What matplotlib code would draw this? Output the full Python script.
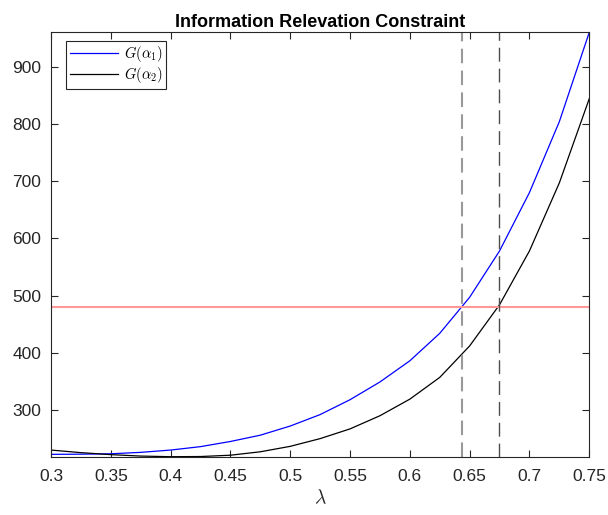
import matplotlib
matplotlib.use('Agg')
import matplotlib.pyplot as plt

plt.rcParams['font.family'] = ['Liberation Sans', 'DejaVu Sans']
plt.rcParams['mathtext.fontset'] = 'cm'

# values
lam = [0.3, 0.325, 0.35, 0.375, 0.4, 0.425, 0.45, 0.475, 0.5, 0.525,
       0.55, 0.575, 0.6, 0.625, 0.65, 0.675, 0.7, 0.725, 0.75]
g_alpha1 = [222.5, 222.8, 223.5, 226, 230, 236, 245, 256, 272, 292,
            318, 349, 386, 434, 497, 578, 680, 804, 960]
g_alpha2 = [230, 225.5, 222, 219.5, 218.4, 218.7, 221, 227, 236.5, 250,
            267, 290, 319, 357, 412, 484, 578, 697, 844]
threshold = 480
lam_cross1 = 0.6438
lam_cross2 = 0.6745

xticks = [0.3, 0.35, 0.4, 0.45, 0.5, 0.55, 0.6, 0.65, 0.7, 0.75]
xticklabels = ['0.3', '0.35', '0.4', '0.45', '0.5', '0.55', '0.6', '0.65', '0.7', '0.75']
yticks = [300, 400, 500, 600, 700, 800, 900]

fig = plt.figure(figsize=(6.08, 5.15), dpi=100)
ax = fig.add_axes([0.0839, 0.1132, 0.8853, 0.8241])

axc = (0.15, 0.15, 0.15)
ax.plot(lam, g_alpha1, color='b', linewidth=0.9, label=r'$G(\alpha_1)$')
ax.plot(lam, g_alpha2, color='k', linewidth=0.9, label=r'$G(\alpha_2)$')
ax.axhline(threshold, color=(1, 0.6, 0.6), linewidth=1.5)
ax.axvline(lam_cross1, color=(0.6, 0.6, 0.6), linewidth=1.5, dashes=(7, 3.5))
ax.axvline(lam_cross2, color=(0.3, 0.3, 0.3), linewidth=1.0, dashes=(10, 5))

ax.set_xlim(0.3, 0.75)
ax.set_ylim(min(g_alpha2), max(g_alpha1))
ax.set_xticks(xticks)
ax.set_xticklabels(xticklabels)
ax.set_yticks(yticks)
ax.tick_params(direction='in', top=True, right=True, length=5, width=0.8,
               labelsize=12.5, colors=axc)
ax.tick_params(axis='x', pad=9)
ax.tick_params(axis='y', pad=7)
for s in ax.spines.values():
    s.set_color(axc)
    s.set_linewidth(0.8)

ax.set_title('Information Relevation Constraint', fontsize=13,
             fontweight='bold', pad=4)
ax.set_xlabel(r'$\lambda$', fontsize=14, color=axc, labelpad=3)

leg = ax.legend(loc='upper left', bbox_to_anchor=(0.028, 0.98), fontsize=10.5,
                frameon=True, fancybox=False, edgecolor=axc, framealpha=1,
                handlelength=3.3, borderaxespad=0, borderpad=0.25,
                labelspacing=0.05, handletextpad=0.4)
leg.get_frame().set_linewidth(0.8)

fig.savefig('out.png', dpi=100)
